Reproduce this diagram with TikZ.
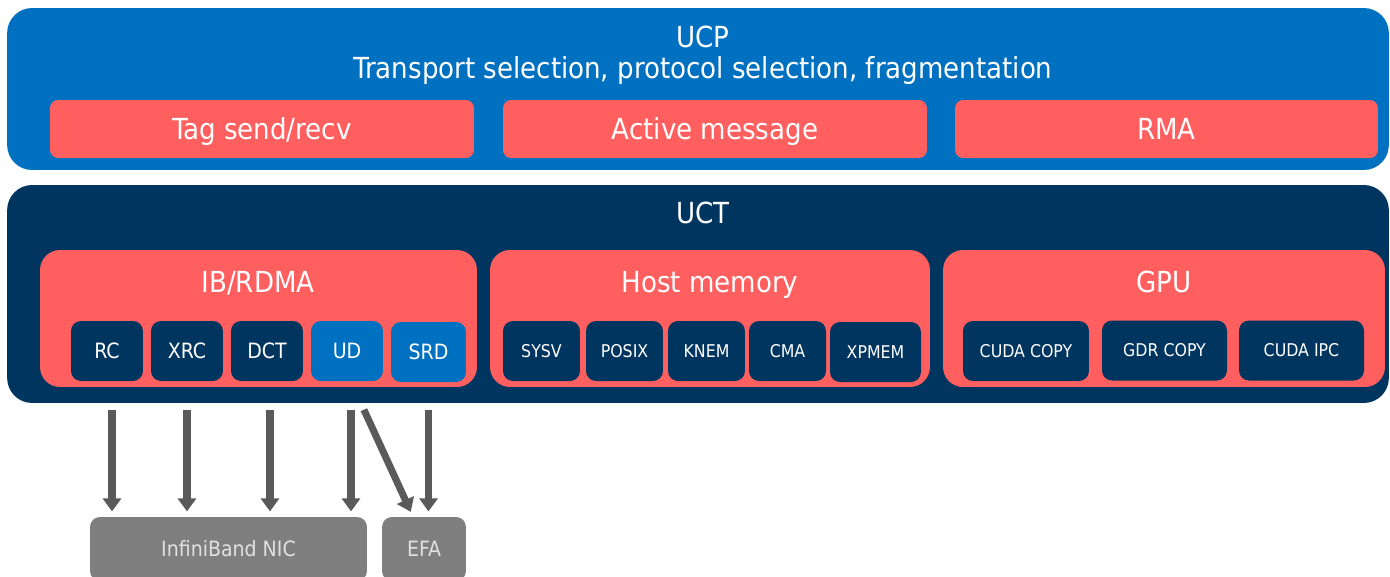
\documentclass[tikz,border=0pt]{standalone}
\usepackage{fontspec}
\setmainfont{DejaVu Sans Condensed}
\usetikzlibrary{arrows.meta}
\usetikzlibrary{positioning}
\usepackage{xcolor}

\definecolor{ucpblue}{HTML}{0070C0}
\definecolor{uctnavy}{HTML}{00355F}
\definecolor{layerred}{HTML}{FF5F5F}
\definecolor{nicgray}{HTML}{7F7F7F}
\definecolor{arrowgray}{HTML}{5A5A5A}

\tikzset{
    layer/.style={rounded corners=0.5cm, inner sep=0pt, minimum width=27.64cm},
    title/.style={text=white, inner sep=0pt, text height=0.42cm, text depth=0pt,
        font=\fontsize{16.5}{19}\selectfont},
    feature/.style={fill=layerred, rounded corners=0.16cm, inner sep=0pt, minimum height=1.16cm,
        text=white, text height=0.42cm, text depth=0pt, font=\fontsize{16.5}{19}\selectfont},
    group/.style={fill=layerred, rounded corners=0.4cm, inner sep=0pt, minimum height=2.74cm},
    tl/.style={fill=uctnavy, rounded corners=0.2cm, inner sep=0pt, minimum height=1.2cm,
        text=white, font=\fontsize{12}{14}\selectfont},
    tlsmall/.style={tl, font=\fontsize{10}{12}\selectfont},
    hw/.style={fill=nicgray, rounded corners=0.2cm, inner sep=0pt, minimum height=1.28cm,
        text=white!88!black, font=\fontsize{12}{14}\selectfont},
    flow/.style={draw=arrowgray, line width=4pt, -{Triangle[width=0.36cm,length=0.26cm]},
        shorten <=4pt, shorten >=3pt}
}

\begin{document}
\begin{tikzpicture}[x=0.02cm, y=-0.02cm]
    \useasboundingbox (0,0) rectangle (1390,576);

    % UCP layer
    \node[layer, fill=ucpblue, minimum height=3.24cm] (ucp) at (698,89) {};
    \node[title] (ucpname) at (703,37) {UCP};
    \node[title] (ucpdesc) at (703,68) {Transport selection, protocol selection, fragmentation};
    \node[feature, minimum width=8.48cm] (tag) at (262,129) {Tag send/recv};
    \node[feature, minimum width=8.48cm] (am) at (715,129) {Active message};
    \node[feature, minimum width=8.46cm] (rma) at (1166.5,129) {RMA};

    % UCT layer
    \node[layer, fill=uctnavy, minimum height=4.36cm] (uct) at (698,294) {};
    \node[title] (uctname) at (703,213) {UCT};

    \node[group, minimum width=8.74cm] (ib) at (258.5,318.5) {};
    \node[group, minimum width=8.8cm] (host) at (710,318.5) {};
    \node[group, minimum width=8.84cm] (gpu) at (1164,318.5) {};
    \node[title] (ibname) at (258,282) {IB/RDMA};
    \node[title] (hostname) at (710,282) {Host memory};
    \node[title] (gpuname) at (1164,282) {GPU};

    % IB transports
    \node[tl, minimum width=1.44cm] (rc) at (107,351) {RC};
    \node[tl, minimum width=1.44cm] (xrc) at (187,351) {XRC};
    \node[tl, minimum width=1.44cm] (dct) at (267,351) {DCT};
    \node[tl, fill=ucpblue, minimum width=1.44cm] (ud) at (347,351) {UD};
    \node[tl, fill=ucpblue, minimum width=1.5cm] (srd) at (428.5,352) {SRD};

    % shared memory transports
    \node[tlsmall, minimum width=1.54cm] (sysv) at (541.5,351) {SYSV};
    \node[tlsmall, minimum width=1.54cm] (posix) at (624.5,351) {POSIX};
    \node[tlsmall, minimum width=1.54cm] (knem) at (706.5,351) {KNEM};
    \node[tlsmall, minimum width=1.54cm] (cma) at (787.5,351) {CMA};
    \node[tlsmall, minimum width=1.82cm] (xpmem) at (875.5,352) {XPMEM};

    % GPU transports
    \node[tlsmall, minimum width=2.52cm] (cudacopy) at (1026,351) {CUDA COPY};
    \node[tlsmall, minimum width=2.5cm] (gdrcopy) at (1164.5,350.5) {GDR COPY};
    \node[tlsmall, minimum width=2.5cm] (cudaipc) at (1301.5,350.5) {CUDA IPC};

    % devices
    \node[hw, minimum width=5.54cm] (nic) at (228.5,549) {InfiniBand NIC};
    \node[hw, minimum width=1.68cm] (efa) at (424,549) {EFA};

    \draw[flow] ([xshift=0.1cm]rc.south |- uct.south) -- ([xshift=0.1cm]rc.south |- nic.north);
    \draw[flow] (xrc.south |- uct.south) -- (xrc.south |- nic.north);
    \draw[flow] ([xshift=0.06cm]dct.south |- uct.south) -- ([xshift=0.06cm]dct.south |- nic.north);
    \draw[flow] ([xshift=0.08cm]ud.south |- uct.south) -- ([xshift=0.08cm]ud.south |- nic.north);
    \draw[flow] ([xshift=0.28cm]ud.south |- uct.south) -- ([xshift=-0.22cm]efa.north);
    \draw[flow] (srd.south |- uct.south) -- (srd.south |- efa.north);
\end{tikzpicture}
\end{document}
